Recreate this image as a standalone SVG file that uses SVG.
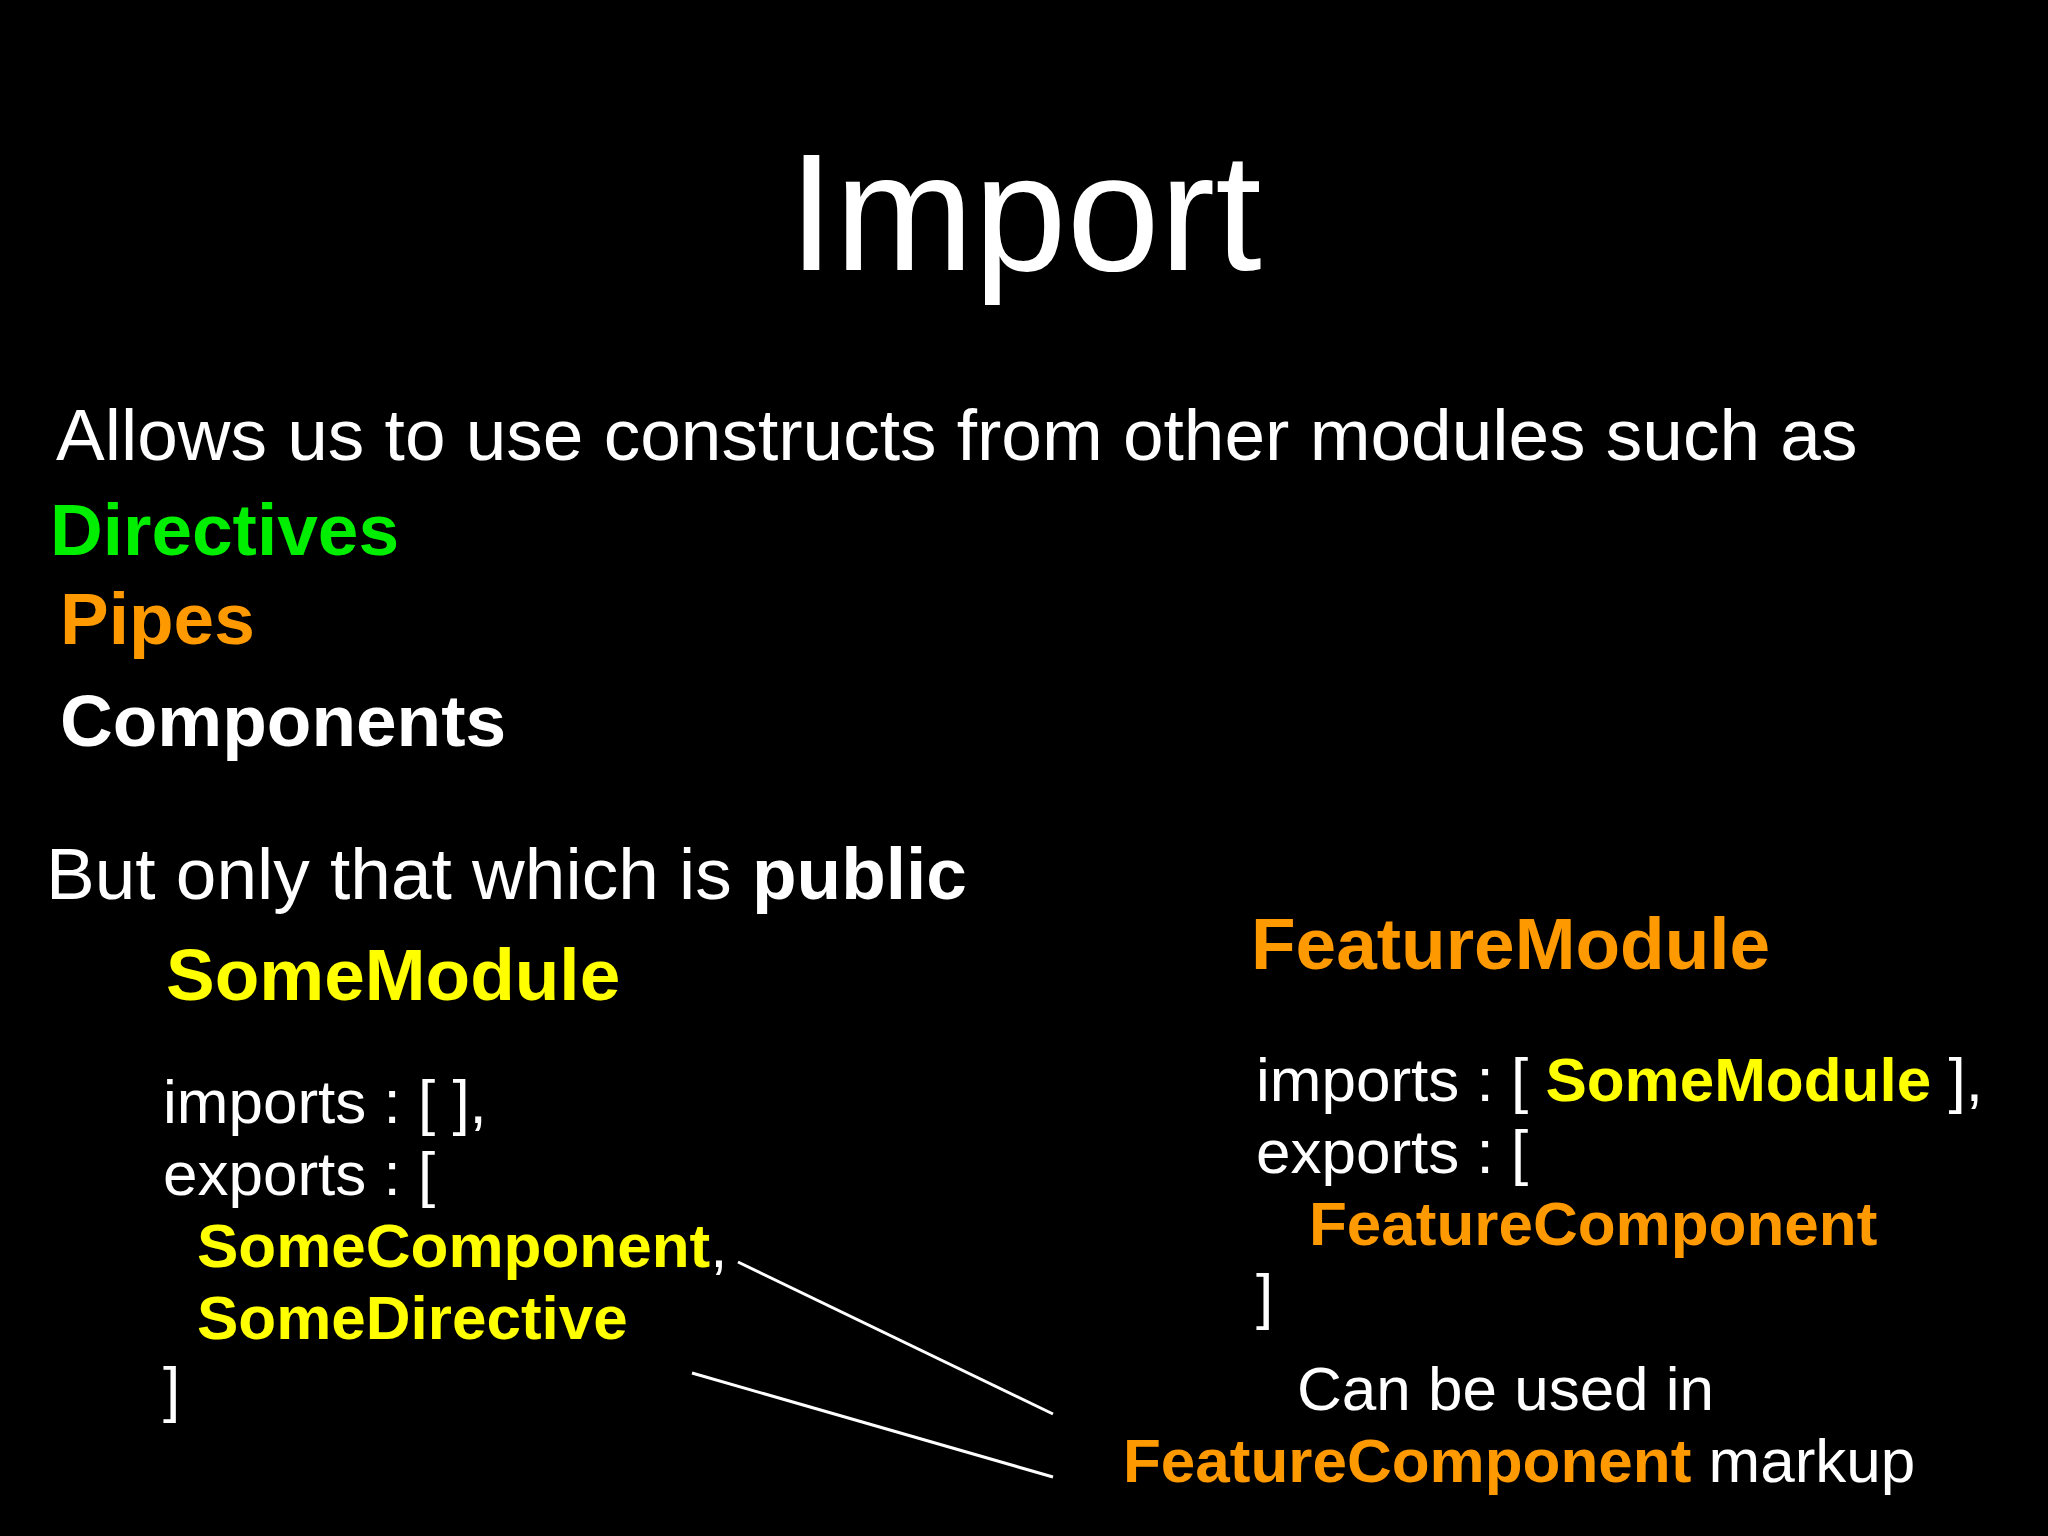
<svg xmlns="http://www.w3.org/2000/svg" width="2048" height="1536" viewBox="0 0 2048 1536">
<style>
text{font-family:"Liberation Sans",Arial,sans-serif;fill:#fff}
.b{font-weight:bold}
.y{fill:#ffff00}
.o{fill:#ff9900}
.g{fill:#00ee00}
.big{font-size:73px}
.code{font-size:62px}
line{stroke:#fff;stroke-width:3}
</style>
<rect width="2048" height="1536" fill="#000"/>
<g id="title"><text x="1025" y="270" font-size="167" text-anchor="middle">Import</text></g>
<g id="intro" class="big">
<text x="56" y="460">Allows us to use constructs from other modules such as</text>
<text x="50" y="555" class="b g">Directives</text>
<text x="60" y="644" class="b o">Pipes</text>
<text x="60" y="746" class="b">Components</text>
<text x="46" y="899">But only that which is <tspan class="b">public</tspan></text>
</g>
<g id="someModule">
<text x="166" y="1000" class="big b y">SomeModule</text>
<g class="code">
<text x="163" y="1123">imports : [ ],</text>
<text x="163" y="1195">exports : [</text>
<text x="197" y="1267"><tspan class="b y">SomeComponent</tspan>,</text>
<text x="197" y="1339" class="b y">SomeDirective</text>
<text x="163" y="1410">]</text>
</g>
</g>
<g id="featureModule">
<text x="1251" y="969" class="big b o">FeatureModule</text>
<g class="code">
<text x="1256" y="1101">imports : [ <tspan class="b y">SomeModule</tspan> ],</text>
<text x="1256" y="1173">exports : [</text>
<text x="1309" y="1245" class="b o">FeatureComponent</text>
<text x="1256" y="1317">]</text>
</g>
</g>
<g id="usage" class="code">
<text x="1297" y="1410">Can be used in</text>
<text x="1123" y="1482"><tspan class="b o">FeatureComponent</tspan> markup</text>
</g>
<g id="connectors">
<line x1="738" y1="1262" x2="1053" y2="1414"/>
<line x1="692" y1="1373" x2="1053" y2="1477"/>
</g>
</svg>
